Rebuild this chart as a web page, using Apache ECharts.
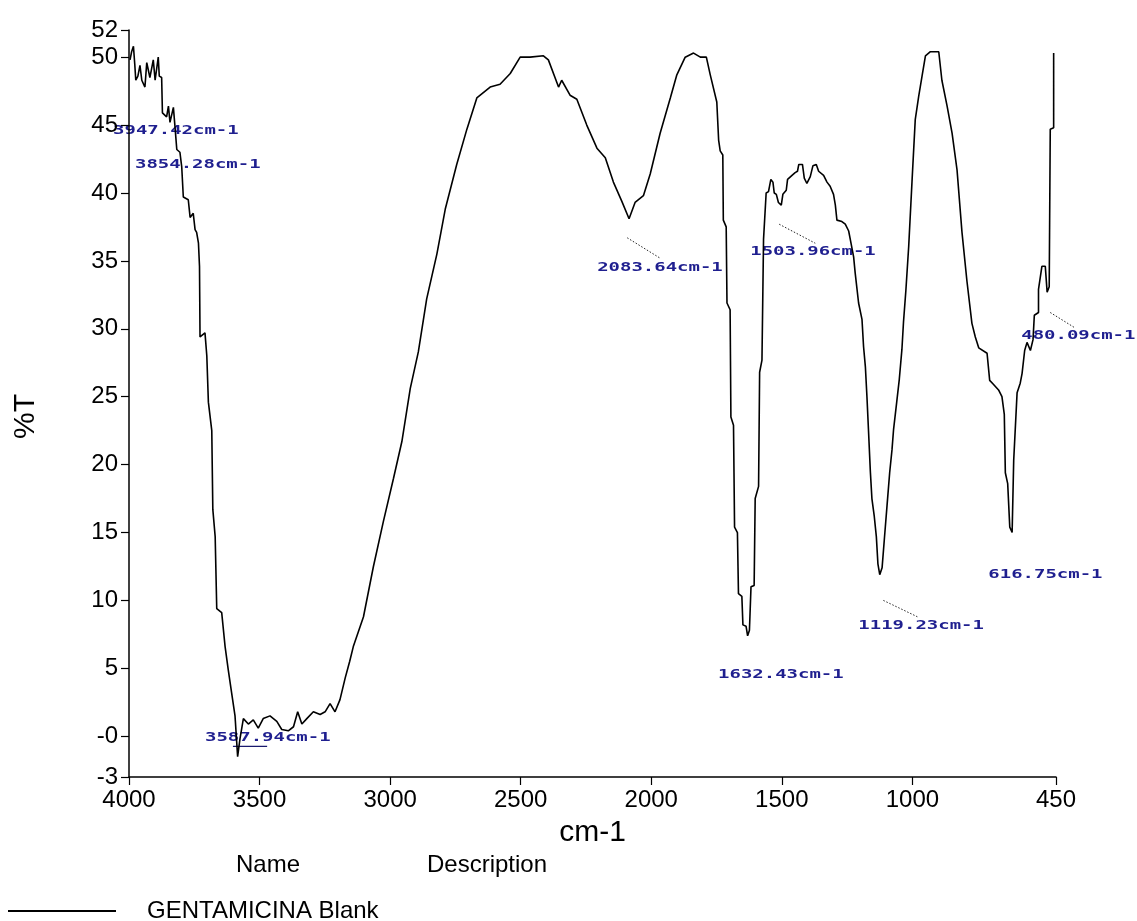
<!DOCTYPE html>
<html>
<head>
<meta charset="utf-8">
<script src="https://cdn.jsdelivr.net/npm/echarts@6/dist/echarts.min.js"></script>
<style>
  html, body { margin: 0; padding: 0; background: #fff; }
  #chart { width: 1137px; height: 921px; }
</style>
</head>
<body>
<div id="chart"></div>
<script>
// ---- data ----
const seriesName = 'GENTAMICINA Blank';
const xTicks = [4000, 3500, 3000, 2500, 2000, 1500, 1000, 450];
const yTicks = [-3, 0, 5, 10, 15, 20, 25, 30, 35, 40, 45, 50, 52];
const wavenumber = [
  3996,3990,3983,3978,3974,3966,3958,3951,3939,3932,3920,3907,3900,3888,3884,3875,3872,3856,3849,3843,
  3830,3824,3817,3805,3798,3792,3773,3766,3754,3747,3741,3734,3730,3728,3709,3702,3696,3683,3679,3670,
  3664,3645,3632,3620,3607,3594,3584,3575,3562,3543,3524,3505,3486,3460,3434,3415,3390,3370,3354,3338,
  3319,3294,3268,3249,3230,3211,3192,3172,3155,3141,3102,3064,3026,2987,2955,2923,2892,2860,2821,2789,
  2745,2706,2668,2617,2579,2540,2502,2464,2413,2394,2355,2343,2311,2285,2247,2208,2176,2145,2113,2085,
  2062,2030,2004,1966,1927,1902,1870,1838,1812,1789,1774,1749,1742,1736,1726,1724,1713,1710,1698,1695,
  1685,1681,1670,1666,1653,1649,1637,1631,1624,1618,1606,1602,1589,1585,1576,1570,1560,1551,1542,1534,
  1529,1521,1513,1502,1496,1483,1478,1461,1449,1440,1435,1421,1414,1404,1391,1381,1368,1359,1340,1327,
  1315,1302,1295,1289,1270,1257,1244,1238,1225,1219,1206,1193,1187,1180,1174,1168,1161,1155,1146,1138,
  1132,1125,1116,1107,1097,1087,1078,1072,1060,1050,1040,1034,1025,1014,1001,989,976,963,950,931,
  899,887,867,848,829,810,791,772,759,746,714,704,689,670,657,648,644,635,627,618,
  612,599,587,580,570,561,548,538,533,517,517,504,491,484,476,472,459,459
];
const transmittance = [
  49.8,50.4,50.8,49.5,48.3,48.6,49.4,48.3,47.8,49.6,48.5,49.8,48.3,50.0,48.6,48.5,45.9,45.6,46.4,45.2,
  46.3,44.9,43.2,43.0,41.9,39.7,39.5,38.2,38.5,37.3,37.1,36.3,34.6,29.4,29.7,28.0,24.6,22.5,16.7,14.7,
  9.4,9.1,6.6,4.9,3.2,1.5,-1.5,-0.2,1.3,0.9,1.2,0.6,1.3,1.5,1.1,0.5,0.4,0.7,1.8,0.9,
  1.3,1.8,1.6,1.8,2.4,1.8,2.7,4.3,5.5,6.6,8.8,12.5,15.8,19.0,21.7,25.6,28.3,32.2,35.5,38.8,
  42.1,44.7,47.0,47.8,48.0,48.8,50.0,50.0,50.1,49.8,47.8,48.3,47.2,46.9,45.0,43.3,42.6,40.8,39.4,38.1,
  39.3,39.8,41.4,44.4,47.0,48.7,50.0,50.3,50.0,50.0,48.7,46.7,43.9,43.1,42.8,38.0,37.5,31.9,31.4,23.5,
  22.9,15.4,15.0,10.5,10.3,8.2,8.1,7.4,7.8,11.0,11.1,17.5,18.4,26.8,27.7,36.6,40.0,40.1,41.0,40.8,
  40.0,39.9,39.3,39.1,39.9,40.2,41.0,41.3,41.5,41.6,42.1,42.1,41.1,40.7,41.2,42.0,42.1,41.6,41.3,40.8,
  40.5,39.9,39.1,38.0,37.9,37.7,37.2,36.6,35.3,34.1,31.9,30.7,28.7,27.2,25.0,22.5,19.5,17.5,16.2,14.7,
  12.7,11.9,12.4,14.6,17.0,19.4,21.1,22.6,24.6,26.3,28.5,30.5,32.8,36.1,41.0,45.4,47.1,48.6,50.1,50.4,
  50.4,48.3,46.4,44.4,41.7,37.1,33.5,30.4,29.4,28.6,28.2,26.2,25.9,25.5,25.0,23.7,19.4,18.6,15.4,15.0,
  20.3,25.3,26.0,26.7,28.4,29.0,28.4,29.2,31.0,31.2,32.9,34.6,34.6,32.7,33.1,44.7,44.8,50.3
];
// peak annotation texts and where each text sits, in axis units (wavenumber, %T)
const annLabels = ['3947.42cm-1','3854.28cm-1','3587.94cm-1','2083.64cm-1','1503.96cm-1',
                   '1632.43cm-1','1119.23cm-1','616.75cm-1','480.09cm-1'];
const annTextX = [4061, 3977, 3709, 2207, 1621, 1744, 1207, 709, 583];
const annTextY = [44.6, 42.1, -0.1, 34.5, 35.7, 4.5, 8.1, 11.9, 29.5];
// leader lines, in axis units: [x1, y1, x2, y2]
const leaderDotted = [
  [2092, 36.7, 1966, 35.2],
  [1510, 37.7, 1372, 36.3],
  [1111, 10.0, 981, 8.8],
  [472, 31.2, 380, 30.1]
];
const leaderSolid = [[3602, -0.74, 3471, -0.74]];

const FONT = "'Liberation Sans', Arial, sans-serif";
const chart = echarts.init(document.getElementById('chart'), null, { renderer: 'canvas' });

const points = wavenumber.map((w, i) => [w, transmittance[i]]);

chart.setOption({
  backgroundColor: '#ffffff',
  animation: false,
  grid: { left: 129, right: 81, top: 30, bottom: 144, containLabel: false },
  legend: {
    show: true,
    left: 3, top: 894,
    icon: 'rect',
    itemWidth: 108, itemHeight: 2,
    itemStyle: { color: '#000' },
    textStyle: { fontFamily: FONT, fontSize: 24, color: '#000', padding: [0, 0, 0, 26] },
    data: [seriesName]
  },
  xAxis: {
    type: 'value',
    min: 450, max: 4000,
    inverse: true,
    name: 'cm-1',
    nameLocation: 'middle',
    nameGap: 41,
    nameTextStyle: { fontFamily: FONT, fontSize: 30, color: '#000' },
    axisLine: { show: true, onZero: false, lineStyle: { color: '#000', width: 1.5 } },
    axisTick: { show: true, inside: false, length: 8, customValues: xTicks, lineStyle: { color: '#000', width: 1.2 } },
    axisLabel: { show: true, customValues: xTicks, margin: 11, fontFamily: FONT, fontSize: 24, color: '#000',
                 formatter: v => String(v) },
    splitLine: { show: false }
  },
  yAxis: {
    type: 'value',
    min: -3, max: 52,
    name: '%T',
    nameLocation: 'middle',
    nameRotate: 90,
    nameGap: 88,
    nameTextStyle: { fontFamily: FONT, fontSize: 30, color: '#000', padding: [0, 26, 0, 0] },
    axisLine: { show: true, onZero: false, lineStyle: { color: '#000', width: 1.5 } },
    axisTick: { show: true, inside: false, length: 8, customValues: yTicks, lineStyle: { color: '#000', width: 1.2 } },
    axisLabel: {
      show: true, customValues: yTicks, margin: 11, fontFamily: FONT, fontSize: 24, color: '#000',
      formatter: v => (v === 0 ? '-0' : String(v))
    },
    splitLine: { show: false }
  },
  series: [{
    name: seriesName,
    type: 'line',
    data: points,
    showSymbol: false,
    symbol: 'none',
    smooth: false,
    clip: false,
    lineStyle: { color: '#000', width: 1.6 },
    itemStyle: { color: '#000' }
  }]
});

function toPx(x, y) { return chart.convertToPixel({ gridIndex: 0 }, [x, y]); }

const graphics = [];
annLabels.forEach((t, i) => {
  const p = toPx(annTextX[i], annTextY[i]);
  graphics.push({
    type: 'text', x: p[0], y: p[1], scaleX: 1.58, scaleY: 1, silent: true,
    style: { text: t, fill: '#1f1f8f', font: "bold 12px 'DejaVu Sans Mono', monospace",
             align: 'left', verticalAlign: 'middle' }
  });
});
leaderDotted.forEach(l => {
  const a = toPx(l[0], l[1]), b = toPx(l[2], l[3]);
  graphics.push({
    type: 'line', silent: true,
    shape: { x1: a[0], y1: a[1], x2: b[0], y2: b[1] },
    style: { stroke: '#222', lineWidth: 1, lineDash: [1.5, 1.8] }
  });
});
leaderSolid.forEach(l => {
  const a = toPx(l[0], l[1]), b = toPx(l[2], l[3]);
  graphics.push({
    type: 'line', silent: true,
    shape: { x1: a[0], y1: a[1], x2: b[0], y2: b[1] },
    style: { stroke: '#1a1a6e', lineWidth: 1.3 }
  });
});
// column headings above the legend
graphics.push({
  type: 'text', left: 236, top: 853, silent: true,
  style: { text: 'Name', font: "24px 'Liberation Sans', Arial, sans-serif", fill: '#000' }
});
graphics.push({
  type: 'text', left: 427, top: 853, silent: true,
  style: { text: 'Description', font: "24px 'Liberation Sans', Arial, sans-serif", fill: '#000' }
});
chart.setOption({ graphic: graphics });
</script>
</body>
</html>
